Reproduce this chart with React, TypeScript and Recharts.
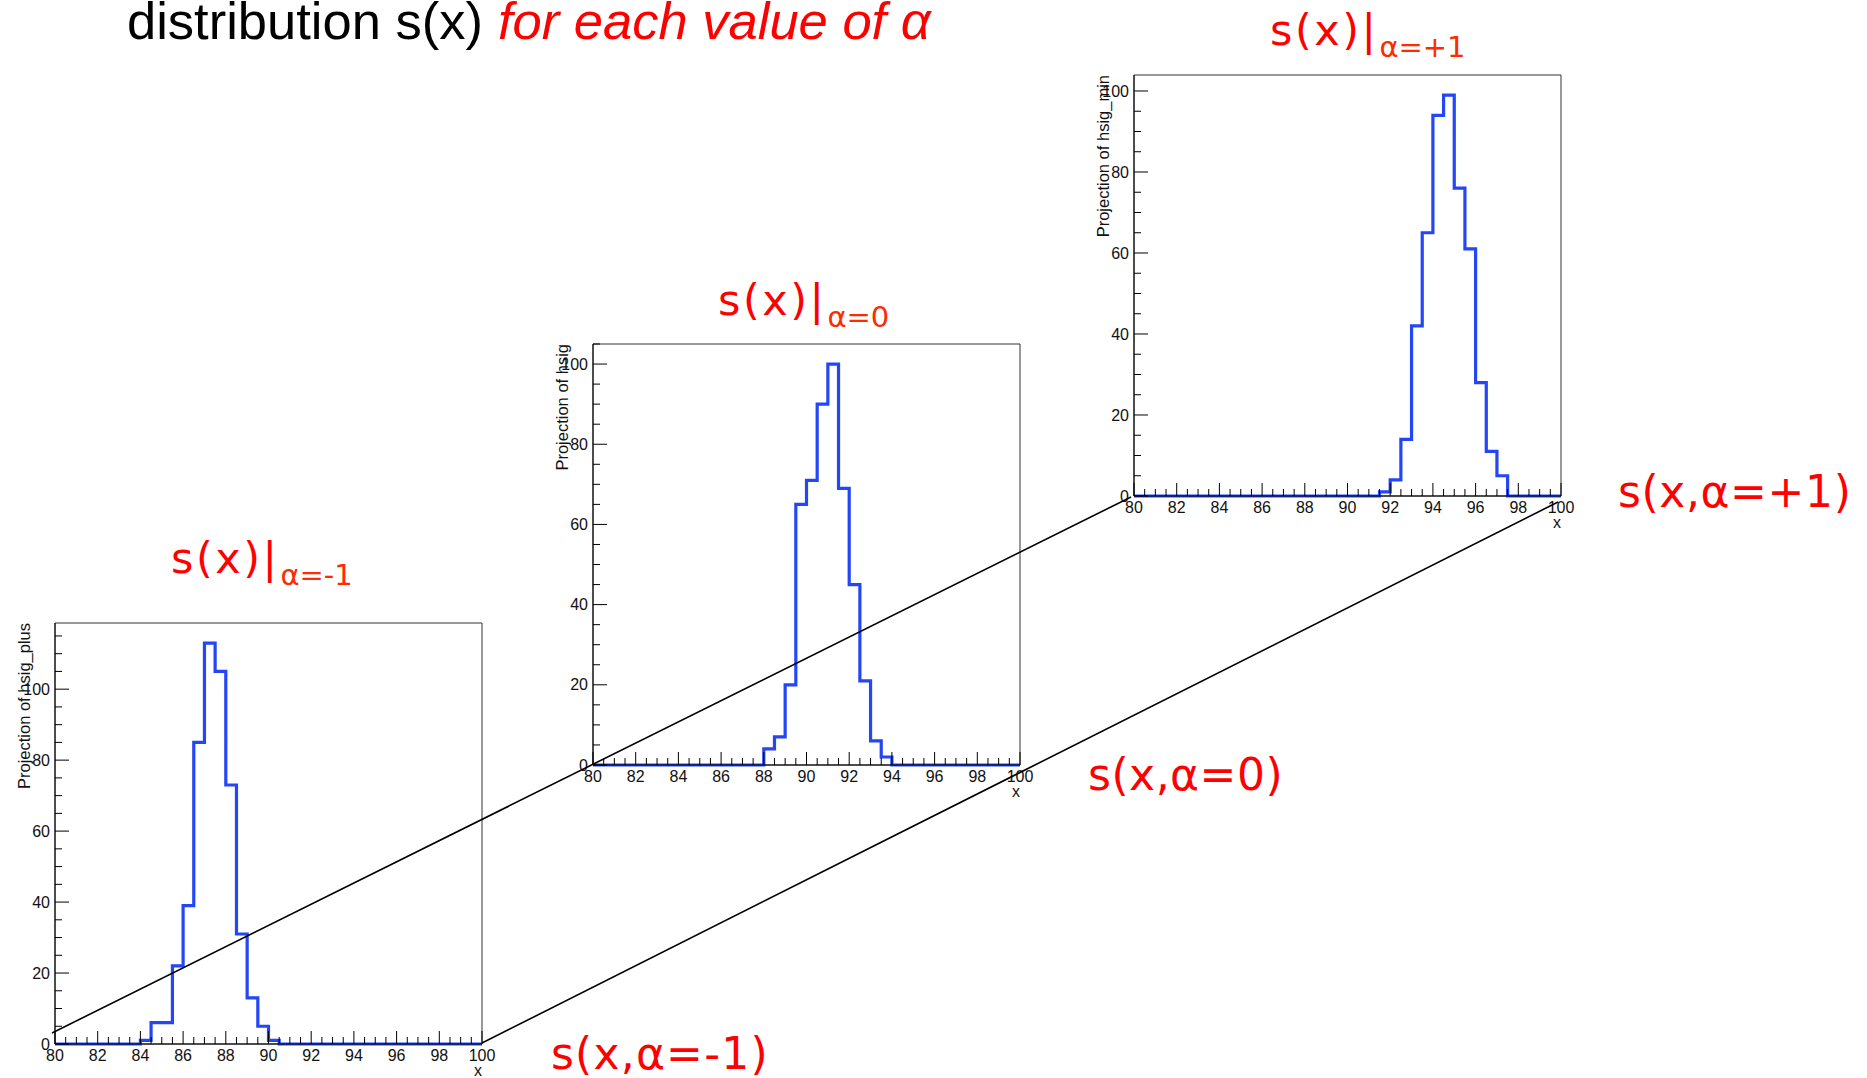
import { Label, Line, LineChart, ReferenceArea, XAxis, YAxis } from "recharts";

const X_LO = 80;
const X_HI = 100;
const BIN_W = 0.5;

// bin contents (40 bins of 0.5, 80..100)
const hsigPlus = [
  0, 0, 0, 0, 0, 0, 0, 0, 1, 6, 6, 22, 39, 85, 113, 105, 73, 31, 13, 5,
  1, 0, 0, 0, 0, 0, 0, 0, 0, 0, 0, 0, 0, 0, 0, 0, 0, 0, 0, 0,
];
const hsig = [
  0, 0, 0, 0, 0, 0, 0, 0, 0, 0, 0, 0, 0, 0, 0, 0, 4, 7, 20, 65,
  71, 90, 100, 69, 45, 21, 6, 2, 0, 0, 0, 0, 0, 0, 0, 0, 0, 0, 0, 0,
];
const hsigMin = [
  0, 0, 0, 0, 0, 0, 0, 0, 0, 0, 0, 0, 0, 0, 0, 0, 0, 0, 0, 0,
  0, 0, 0, 1, 4, 14, 42, 65, 94, 99, 76, 61, 28, 11, 5, 0, 0, 0, 0, 0,
];

const xMajorTicks = [80, 82, 84, 86, 88, 90, 92, 94, 96, 98, 100];
const yMajorTicks = [0, 20, 40, 60, 80, 100];

const panelTitles = ["Projection of hsig_plus", "Projection of hsig", "Projection of hsig_min"];
const sliceLabels = ["α=-1", "α=0", "α=+1"];
const curveLabels = ["s(x,α=-1)", "s(x,α=0)", "s(x,α=+1)"];

// the two guide lines joining the panels (page pixels)
const originLine = [
  { px: 52, py: 1033 },
  { px: 1131, py: 497 },
];
const endLine = [
  { px: 482, py: 1043 },
  { px: 1558, py: 502 },
];

const ROOT_FONT = "'Liberation Sans', Arial, Helvetica, sans-serif";
const LABEL_FONT = "'DejaVu Sans', Verdana, sans-serif";
const BLUE = "#2346f6";
const RED = "#ff0000";

const FW = 427;
const FH = 421;
const PAD_L = 60;
const PAD_T = 10;
const PAD_R = 20;
const PAD_B = 40;

function XTick(props: any) {
  const { x, y, payload } = props;
  const v = payload.value;
  const major = xMajorTicks.includes(v);
  return (
    <g>
      <line x1={x} x2={x} y1={y} y2={y - (major ? 13 : 7)} stroke="#000" strokeWidth={1} />
      {major && (
        <text x={x} y={y + 17} textAnchor="middle" fontSize={16} fontFamily={ROOT_FONT} fill="#111">
          {v}
        </text>
      )}
    </g>
  );
}

function YTick(props: any) {
  const { x, y, payload } = props;
  const v = payload.value;
  const major = yMajorTicks.includes(v);
  return (
    <g>
      <line x1={x} x2={x + (major ? 14 : 7)} y1={y} y2={y} stroke="#000" strokeWidth={1} />
      {major && (
        <text x={x - 5} y={y} dy="0.35em" textAnchor="end" fontSize={16} fontFamily={ROOT_FONT} fill="#111">
          {v}
        </text>
      )}
    </g>
  );
}

function Panel({ bins, title, left, top }: { bins: number[]; title: string; left: number; top: number }) {
  const data = bins.map((v, i) => ({ x: X_LO + i * BIN_W, y: v }));
  data.push({ x: X_HI, y: bins[bins.length - 1] });
  const yMax = Math.max(...bins) * 1.05;

  const xTicks: number[] = [];
  for (let i = 0; i <= (X_HI - X_LO) / BIN_W; i++) xTicks.push(X_LO + i * BIN_W);
  const yTicks: number[] = [];
  for (let v = 0; v <= yMax; v += 5) yTicks.push(v);

  return (
    <div style={{ position: "absolute", left: left - PAD_L, top: top - PAD_T }}>
      <LineChart
        width={FW + PAD_L + PAD_R}
        height={FH + PAD_T + PAD_B}
        data={data}
        margin={{ top: PAD_T, right: PAD_R, bottom: 0, left: 0 }}
      >
        <ReferenceArea x1={X_LO} x2={X_HI} y1={0} y2={yMax} fill="none" stroke="#333" strokeWidth={1} />
        <XAxis
          dataKey="x"
          type="number"
          domain={[X_LO, X_HI]}
          ticks={xTicks}
          interval={0}
          tick={(p: any) => <XTick {...p} />}
          tickLine={false}
          tickSize={0}
          tickMargin={0}
          height={PAD_B}
          axisLine={{ stroke: "#000" }}
        >
          <Label
            content={() => (
              <text x={PAD_L + FW} y={PAD_T + FH + 32} textAnchor="end" fontSize={16} fontFamily={ROOT_FONT} fill="#111">
                x
              </text>
            )}
          />
        </XAxis>
        <YAxis
          type="number"
          domain={[0, yMax]}
          ticks={yTicks}
          interval={0}
          tick={(p: any) => <YTick {...p} />}
          tickLine={false}
          tickSize={0}
          tickMargin={0}
          width={PAD_L}
          axisLine={{ stroke: "#000" }}
        >
          <Label
            content={() => (
              <text
                x={PAD_L - 25}
                y={PAD_T}
                transform={`rotate(-90, ${PAD_L - 25}, ${PAD_T})`}
                textAnchor="end"
                fontSize={16.5}
                fontFamily={ROOT_FONT}
                fill="#111"
              >
                {title}
              </text>
            )}
          />
        </YAxis>
        <Line
          type="stepAfter"
          dataKey="y"
          stroke={BLUE}
          strokeWidth={3.2}
          dot={false}
          activeDot={false}
          isAnimationActive={false}
        />
      </LineChart>
    </div>
  );
}

function Slice({ x, y, sub }: { x: number; y: number; sub: string }) {
  return (
    <text x={x} y={y} fontFamily={LABEL_FONT} fill={RED}>
      <tspan fontSize={43} letterSpacing={2.5}>s(x)|</tspan>
      <tspan fontSize={29} dx={1} dy={12} fill="#ff2a00">
        {sub}
      </tspan>
    </text>
  );
}

export default function App() {
  return (
    <div
      style={{
        position: "absolute",
        left: 0,
        top: 0,
        width: 1867,
        height: 1078,
        overflow: "hidden",
        background: "#fff",
      }}
    >
      <Panel bins={hsigPlus} title={panelTitles[0]} left={55} top={623} />
      <Panel bins={hsig} title={panelTitles[1]} left={593} top={344} />
      <Panel bins={hsigMin} title={panelTitles[2]} left={1134} top={75} />

      <div style={{ position: "absolute", left: 0, top: 0, pointerEvents: "none" }}>
        <LineChart width={1867} height={1078} margin={{ top: 0, right: 0, bottom: 0, left: 0 }}>
          <XAxis dataKey="px" type="number" domain={[0, 1867]} hide />
          <YAxis type="number" domain={[0, 1078]} reversed hide />
          <Line data={originLine} dataKey="py" stroke="#000" strokeWidth={1.6} dot={false} activeDot={false} isAnimationActive={false} />
          <Line data={endLine} dataKey="py" stroke="#000" strokeWidth={1.6} dot={false} activeDot={false} isAnimationActive={false} />
        </LineChart>
      </div>

      <svg width={1867} height={1078} style={{ position: "absolute", left: 0, top: 0, pointerEvents: "none" }}>
        <text x={127} y={39} fontSize={52.5} fontFamily={ROOT_FONT} fill="#000">
          distribution s(x)
        </text>
        <text x={498} y={39} fontSize={52.5} fontFamily={ROOT_FONT} fontStyle="italic" fill={RED}>
          for each value of α
        </text>

        <Slice x={171} y={573} sub={sliceLabels[0]} />
        <Slice x={718} y={315} sub={sliceLabels[1]} />
        <Slice x={1270} y={45} sub={sliceLabels[2]} />

        <text x={551} y={1069} fontSize={44} fontFamily={LABEL_FONT} fill={RED} letterSpacing={1.2}>
          {curveLabels[0]}
        </text>
        <text x={1088} y={790} fontSize={44} fontFamily={LABEL_FONT} fill={RED} letterSpacing={0.5}>
          {curveLabels[1]}
        </text>
        <text x={1618} y={507} fontSize={44} fontFamily={LABEL_FONT} fill={RED} letterSpacing={0.6}>
          {curveLabels[2]}
        </text>
      </svg>
    </div>
  );
}
